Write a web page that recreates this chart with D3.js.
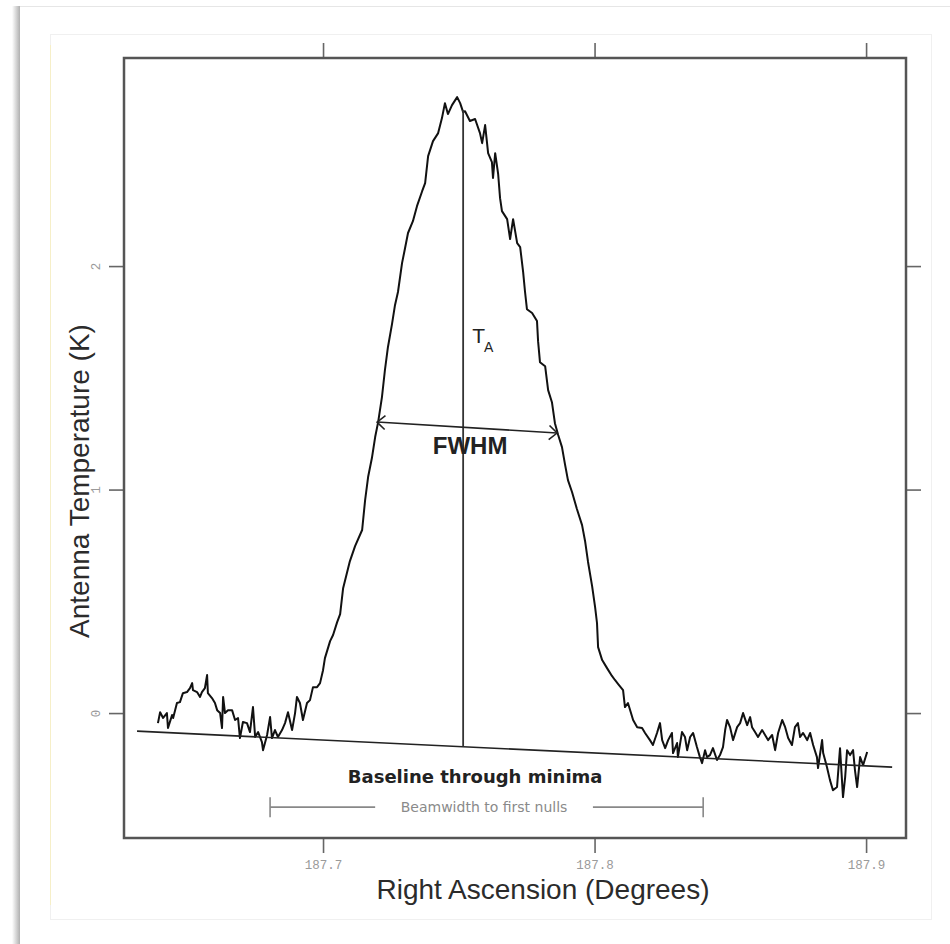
<!DOCTYPE html>
<html>
<head>
<meta charset="utf-8">
<script src="https://cdn.jsdelivr.net/npm/d3@7"></script>
<style>
  body { margin: 0; background: #fff; }
</style>
</head>
<body>
<div id="chart"></div>
<script>
// drift scan
var ra = [187.6392, 187.6400, 187.6411, 187.6425, 187.6429, 187.6444, 187.6448, 187.6462, 187.6473, 187.6484,
  187.6499, 187.6510, 187.6518, 187.6521, 187.6536, 187.6547, 187.6554, 187.6565, 187.6573, 187.6576,
  187.6591, 187.6602, 187.6610, 187.6621, 187.6628, 187.6632, 187.6639, 187.6650, 187.6665, 187.6676,
  187.6687, 187.6694, 187.6705, 187.6720, 187.6731, 187.6742, 187.6750, 187.6761, 187.6775, 187.6779,
  187.6794, 187.6805, 187.6812, 187.6823, 187.6834, 187.6849, 187.6860, 187.6871, 187.6886, 187.6897,
  187.6904, 187.6915, 187.6926, 187.6941, 187.6952, 187.6963, 187.6978, 187.6989, 187.7000, 187.7007,
  187.7026, 187.7037, 187.7052, 187.7063, 187.7074, 187.7099, 187.7118, 187.7144, 187.7155, 187.7166,
  187.7180, 187.7192, 187.7203, 187.7217, 187.7228, 187.7239, 187.7254, 187.7265, 187.7276, 187.7291,
  187.7302, 187.7313, 187.7331, 187.7346, 187.7365, 187.7376, 187.7387, 187.7405, 187.7424, 187.7438,
  187.7449, 187.7460, 187.7475, 187.7494, 187.7505, 187.7516, 187.7523, 187.7541, 187.7560, 187.7578,
  187.7586, 187.7597, 187.7608, 187.7622, 187.7626, 187.7634, 187.7645, 187.7652, 187.7659, 187.7678,
  187.7689, 187.7700, 187.7715, 187.7726, 187.7737, 187.7744, 187.7751, 187.7770, 187.7788, 187.7792,
  187.7799, 187.7818, 187.7829, 187.7843, 187.7854, 187.7866, 187.7880, 187.7891, 187.7902, 187.7917,
  187.7935, 187.7954, 187.7965, 187.7976, 187.7991, 187.8002, 187.8009, 187.8013, 187.8028, 187.8046,
  187.8064, 187.8075, 187.8087, 187.8105, 187.8112, 187.8123, 187.8142, 187.8157, 187.8175, 187.8186,
  187.8204, 187.8215, 187.8230, 187.8241, 187.8249, 187.8260, 187.8271, 187.8285, 187.8289, 187.8304,
  187.8307, 187.8322, 187.8333, 187.8341, 187.8352, 187.8363, 187.8377, 187.8388, 187.8396, 187.8407,
  187.8414, 187.8425, 187.8436, 187.8451, 187.8462, 187.8473, 187.8481, 187.8488, 187.8499, 187.8510,
  187.8525, 187.8536, 187.8547, 187.8562, 187.8573, 187.8580, 187.8591, 187.8602, 187.8617, 187.8628,
  187.8639, 187.8654, 187.8665, 187.8676, 187.8691, 187.8702, 187.8713, 187.8727, 187.8738, 187.8749,
  187.8757, 187.8768, 187.8783, 187.8794, 187.8805, 187.8819, 187.8823, 187.8838, 187.8842, 187.8856,
  187.8867, 187.8878, 187.8893, 187.8904, 187.8915, 187.8923, 187.8930, 187.8941, 187.8952, 187.8959,
  187.8967, 187.8978, 187.8989, 187.9004];

var temp = [-0.045, 0.004, -0.022, 0.000, -0.067, -0.009, -0.022, 0.045, 0.049, 0.089,
  0.094, 0.112, 0.134, 0.103, 0.094, 0.072, 0.094, 0.112, 0.170, 0.089,
  0.067, 0.045, 0.013, 0.000, -0.067, 0.072, 0.000, 0.013, 0.013, -0.031,
  -0.022, -0.112, -0.040, -0.045, -0.085, 0.027, -0.107, -0.085, -0.130, -0.166,
  -0.098, -0.018, -0.112, -0.076, -0.107, -0.076, -0.045, 0.004, -0.076, 0.000,
  0.072, 0.045, -0.031, 0.045, 0.058, 0.116, 0.116, 0.134, 0.192, 0.246,
  0.322, 0.349, 0.407, 0.443, 0.559, 0.680, 0.747, 0.819, 0.953, 1.056,
  1.141, 1.235, 1.302, 1.414, 1.535, 1.637, 1.740, 1.825, 1.884, 2.013,
  2.080, 2.148, 2.201, 2.268, 2.335, 2.371, 2.492, 2.559, 2.595, 2.662,
  2.729, 2.680, 2.720, 2.756, 2.729, 2.689, 2.693, 2.649, 2.658, 2.595,
  2.550, 2.631, 2.505, 2.465, 2.394, 2.505, 2.411, 2.304, 2.246, 2.210,
  2.121, 2.210, 2.103, 2.085, 1.973, 1.884, 1.807, 1.790, 1.754, 1.664,
  1.570, 1.552, 1.445, 1.391, 1.297, 1.244, 1.190, 1.114, 1.042, 0.989,
  0.913, 0.841, 0.770, 0.676, 0.568, 0.474, 0.403, 0.295, 0.237, 0.201,
  0.166, 0.148, 0.130, 0.103, 0.027, 0.045, -0.031, -0.063, -0.067, -0.089,
  -0.121, -0.143, -0.089, -0.045, -0.121, -0.157, -0.121, -0.089, -0.179, -0.134,
  -0.197, -0.085, -0.107, -0.166, -0.107, -0.089, -0.152, -0.197, -0.224, -0.166,
  -0.197, -0.188, -0.157, -0.210, -0.188, -0.152, -0.076, -0.031, -0.063, -0.121,
  -0.063, -0.045, 0.000, -0.054, -0.018, -0.063, -0.085, -0.107, -0.076, -0.098,
  -0.121, -0.098, -0.166, -0.089, -0.031, -0.063, -0.112, -0.143, -0.063, -0.045,
  -0.107, -0.089, -0.121, -0.089, -0.143, -0.197, -0.246, -0.121, -0.179, -0.242,
  -0.300, -0.345, -0.331, -0.157, -0.376, -0.286, -0.166, -0.188, -0.166, -0.255,
  -0.331, -0.197, -0.233, -0.174];

var xTicks = [187.7, 187.8, 187.9];
var xTickLabels = ["187.7", "187.8", "187.9"];
var yTicks = [0, 1, 2];
var yTickLabels = ["0", "1", "2"];

// annotation geometry (data units)
var baselineRa = [187.6315, 187.9096];
var baselineTemp = [-0.081, -0.242];
var peakRa = 187.7516;
var peakTemp = [-0.150, 2.698];
var fwhmRa = [187.7199, 187.7862];
var fwhmTemp = [1.302, 1.253];
var taLabelTemp = 1.655;
var nullRa = [187.6805, 187.8400];
var nullGapRa = [187.7192, 187.7994];
var nullTemp = -0.421;

var margin = {top: 58, right: 44, bottom: 106, left: 124},
    width = 950 - margin.left - margin.right,
    height = 944 - margin.top - margin.bottom;

var x = d3.scaleLinear().domain([187.6267, 187.9147]).range([0, width]);
var y = d3.scaleLinear().domain([-0.559, 2.931]).range([height, 0]);

var svg = d3.select("#chart").append("svg")
    .attr("width", 950)
    .attr("height", 944);

// page / panel decoration
var defs = svg.append("defs");
var shade = defs.append("linearGradient").attr("id", "shade");
shade.append("stop").attr("offset", "0").attr("stop-color", "#fff");
shade.append("stop").attr("offset", "1").attr("stop-color", "#b0b0b0");
svg.append("rect").attr("x", 12).attr("y", 6).attr("width", 8).attr("height", 938).attr("fill", "url(#shade)");
svg.append("line").attr("x1", 20).attr("x2", 950).attr("y1", 6.5).attr("y2", 6.5)
    .attr("stroke", "#e6e6e6");
svg.append("rect").attr("x", 50.5).attr("y", 34.5).attr("width", 881).attr("height", 885)
    .attr("fill", "none").attr("stroke", "#f0f0f0");
svg.append("line").attr("x1", 50.5).attr("x2", 50.5).attr("y1", 45).attr("y2", 905)
    .attr("stroke", "#f6efc8");

var g = svg.append("g")
    .attr("transform", "translate(" + margin.left + "," + margin.top + ")");

function styleAxis(sel) {
  sel.select(".domain").remove();
  sel.selectAll(".tick line").attr("stroke", "#666").attr("stroke-width", 1.6);
  sel.selectAll("text")
      .attr("fill", "#9a9a9a")
      .style("font-family", "'Liberation Mono', 'DejaVu Sans Mono', monospace")
      .style("font-size", "12.5px");
}

g.append("g")
    .attr("transform", "translate(0," + height + ")")
    .call(d3.axisBottom(x).tickValues(xTicks).tickSize(15).tickPadding(7)
      .tickFormat(function(d, i) { return xTickLabels[i]; }))
    .call(styleAxis);

g.append("g")
    .call(d3.axisTop(x).tickValues(xTicks).tickSize(15).tickFormat(""))
    .call(styleAxis);

g.append("g")
    .call(d3.axisLeft(y).tickValues(yTicks).tickSize(15)
      .tickFormat(function(d, i) { return yTickLabels[i]; }))
    .call(styleAxis)
    .selectAll("text")
      .attr("x", 0)
      .attr("dy", "0.35em")
      .attr("transform", "translate(-28,0) rotate(-90)")
      .style("text-anchor", "middle");

g.append("g")
    .attr("transform", "translate(" + width + ",0)")
    .call(d3.axisRight(y).tickValues(yTicks).tickSize(15).tickFormat(""))
    .call(styleAxis);

// frame
g.append("rect")
    .attr("width", width)
    .attr("height", height)
    .attr("fill", "none")
    .attr("stroke", "#555")
    .attr("stroke-width", 2.5);

// axis titles
svg.append("text")
    .attr("x", 543)
    .attr("y", 899)
    .attr("text-anchor", "middle")
    .attr("fill", "#2b2b2b")
    .style("font-family", "'Liberation Sans', Arial, sans-serif")
    .style("font-size", "28px")
    .text("Right Ascension (Degrees)");

svg.append("text")
    .attr("transform", "translate(89,481) rotate(-90)")
    .attr("text-anchor", "middle")
    .attr("fill", "#2b2b2b")
    .style("font-family", "'Liberation Sans', Arial, sans-serif")
    .style("font-size", "28px")
    .text("Antenna Temperature (K)");

// the scan
var line = d3.line()
    .x(function(d) { return x(d[0]); })
    .y(function(d) { return y(d[1]); });

g.append("path")
    .datum(d3.zip(ra, temp))
    .attr("fill", "none")
    .attr("stroke", "#111")
    .attr("stroke-width", 2)
    .attr("stroke-linejoin", "round")
    .attr("d", line);

// baseline and peak height
g.append("line")
    .attr("x1", x(baselineRa[0])).attr("y1", y(baselineTemp[0]))
    .attr("x2", x(baselineRa[1])).attr("y2", y(baselineTemp[1]))
    .attr("stroke", "#222").attr("stroke-width", 1.6);

g.append("line")
    .attr("x1", x(peakRa)).attr("y1", y(peakTemp[0]))
    .attr("x2", x(peakRa)).attr("y2", y(peakTemp[1]))
    .attr("stroke", "#333").attr("stroke-width", 1.8);

// FWHM double arrow
defs.append("marker")
    .attr("id", "chev")
    .attr("viewBox", "0 0 10 16")
    .attr("refX", 9).attr("refY", 8)
    .attr("markerWidth", 10).attr("markerHeight", 16)
    .attr("markerUnits", "userSpaceOnUse")
    .attr("orient", "auto-start-reverse")
  .append("path")
    .attr("d", "M1,1 L9,8 L1,15")
    .attr("fill", "none")
    .attr("stroke", "#222")
    .attr("stroke-width", 1.6);

g.append("line")
    .attr("x1", x(fwhmRa[0])).attr("y1", y(fwhmTemp[0]))
    .attr("x2", x(fwhmRa[1])).attr("y2", y(fwhmTemp[1]))
    .attr("stroke", "#222").attr("stroke-width", 1.6)
    .attr("marker-start", "url(#chev)")
    .attr("marker-end", "url(#chev)");

g.append("text")
    .attr("x", (x(fwhmRa[0]) + x(fwhmRa[1])) / 2 + 3)
    .attr("y", y((fwhmTemp[0] + fwhmTemp[1]) / 2) + 26)
    .attr("text-anchor", "middle")
    .attr("fill", "#222")
    .style("font-family", "'Liberation Sans', Arial, sans-serif")
    .style("font-weight", "bold")
    .style("font-size", "24px")
    .text("FWHM");

var ta = g.append("text")
    .attr("x", x(peakRa) + 9)
    .attr("y", y(taLabelTemp))
    .attr("fill", "#222")
    .style("font-family", "'Liberation Sans', Arial, sans-serif")
    .style("font-size", "21px")
    .text("T");
ta.append("tspan")
    .attr("dx", -1)
    .attr("dy", 9)
    .style("font-size", "14px")
    .text("A");

g.append("text")
    .attr("x", x(peakRa) + 12)
    .attr("y", y(baselineTemp[0] + (baselineTemp[1] - baselineTemp[0]) *
        (peakRa - baselineRa[0]) / (baselineRa[1] - baselineRa[0])) + 36)
    .attr("text-anchor", "middle")
    .attr("fill", "#222")
    .style("font-family", "'DejaVu Sans', sans-serif")
    .style("font-weight", "bold")
    .style("font-size", "18px")
    .text("Baseline through minima");

// beamwidth to first nulls
var bw = g.append("g")
    .attr("stroke", "#888")
    .attr("stroke-width", 1.6);
bw.append("line")
    .attr("x1", x(nullRa[0])).attr("x2", x(nullGapRa[0]))
    .attr("y1", y(nullTemp)).attr("y2", y(nullTemp));
bw.append("line")
    .attr("x1", x(nullGapRa[1])).attr("x2", x(nullRa[1]))
    .attr("y1", y(nullTemp)).attr("y2", y(nullTemp));
bw.selectAll(".end")
    .data(nullRa)
  .enter().append("line")
    .attr("x1", function(d) { return x(d); })
    .attr("x2", function(d) { return x(d); })
    .attr("y1", y(nullTemp) - 10)
    .attr("y2", y(nullTemp) + 10);

g.append("text")
    .attr("x", (x(nullGapRa[0]) + x(nullGapRa[1])) / 2)
    .attr("y", y(nullTemp) + 5)
    .attr("text-anchor", "middle")
    .attr("fill", "#8a8a8a")
    .style("font-family", "'DejaVu Sans', sans-serif")
    .style("font-size", "14px")
    .text("Beamwidth to first nulls");
</script>
</body>
</html>
